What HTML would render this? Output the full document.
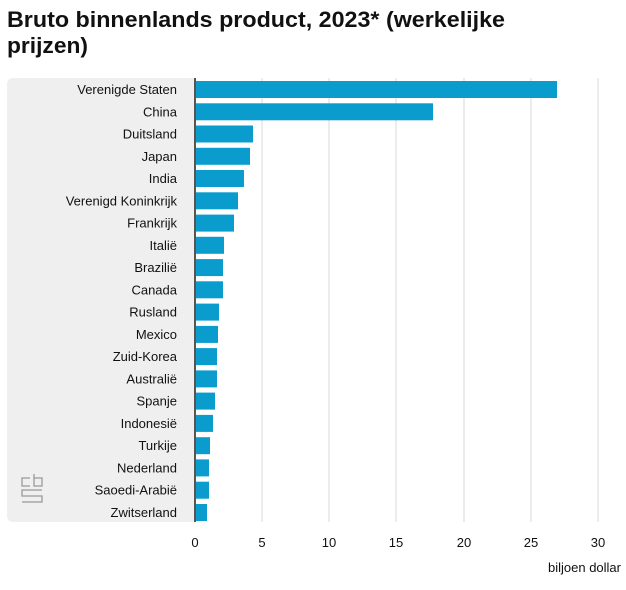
<!DOCTYPE html>
<html><head><meta charset="utf-8"><style>
body{margin:0;background:#fff;width:626px;height:585px;overflow:hidden;font-family:"Liberation Sans",sans-serif}
</style></head><body>
<svg width="626" height="585" xmlns="http://www.w3.org/2000/svg" font-family="Liberation Sans, sans-serif">
<text x="7" y="27" font-size="22" font-weight="bold" fill="#111" textLength="498" lengthAdjust="spacingAndGlyphs">Bruto binnenlands product, 2023* (werkelijke</text>
<text x="7" y="53" font-size="22" font-weight="bold" fill="#111" textLength="81" lengthAdjust="spacingAndGlyphs">prijzen)</text>
<rect x="7" y="78" width="195" height="444" rx="6" fill="#efefef"/>
<g stroke="#d9d9d9" stroke-width="1">
<line x1="262" y1="78" x2="262" y2="522"/><line x1="329" y1="78" x2="329" y2="522"/>
<line x1="396" y1="78" x2="396" y2="522"/><line x1="464" y1="78" x2="464" y2="522"/>
<line x1="531" y1="78" x2="531" y2="522"/><line x1="598" y1="78" x2="598" y2="522"/>
</g>
<rect x="195" y="78" width="10" height="444" fill="#fff"/>
<g fill="#0a9ccc">
<rect x="196" y="81" width="361" height="17"/>
<rect x="196" y="103.3" width="237" height="17"/>
<rect x="196" y="125.5" width="57" height="17"/>
<rect x="196" y="147.8" width="54" height="17"/>
<rect x="196" y="170" width="48" height="17"/>
<rect x="196" y="192.3" width="42" height="17"/>
<rect x="196" y="214.6" width="38" height="17"/>
<rect x="196" y="236.8" width="28" height="17"/>
<rect x="196" y="259.1" width="27" height="17"/>
<rect x="196" y="281.3" width="27" height="17"/>
<rect x="196" y="303.6" width="23" height="17"/>
<rect x="196" y="325.9" width="22" height="17"/>
<rect x="196" y="348.1" width="21" height="17"/>
<rect x="196" y="370.4" width="21" height="17"/>
<rect x="196" y="392.6" width="19" height="17"/>
<rect x="196" y="414.9" width="17" height="17"/>
<rect x="196" y="437.2" width="14" height="17"/>
<rect x="196" y="459.4" width="13" height="17"/>
<rect x="196" y="481.7" width="13" height="17"/>
<rect x="196" y="504" width="11" height="17"/>
</g>
<line x1="195" y1="78" x2="195" y2="522" stroke="#555" stroke-width="2"/>
<g font-size="13" fill="#111" text-anchor="end">
<text x="177" y="94">Verenigde Staten</text>
<text x="177" y="116.3">China</text>
<text x="177" y="138.5">Duitsland</text>
<text x="177" y="160.8">Japan</text>
<text x="177" y="183">India</text>
<text x="177" y="205.3">Verenigd Koninkrijk</text>
<text x="177" y="227.6">Frankrijk</text>
<text x="177" y="249.8">Italië</text>
<text x="177" y="272.1">Brazilië</text>
<text x="177" y="294.3">Canada</text>
<text x="177" y="316.6">Rusland</text>
<text x="177" y="338.9">Mexico</text>
<text x="177" y="361.1">Zuid-Korea</text>
<text x="177" y="383.4">Australië</text>
<text x="177" y="405.6">Spanje</text>
<text x="177" y="427.9">Indonesië</text>
<text x="177" y="450.2">Turkije</text>
<text x="177" y="472.4">Nederland</text>
<text x="177" y="494.7">Saoedi-Arabië</text>
<text x="177" y="517">Zwitserland</text>
</g>
<g font-size="13" fill="#111" text-anchor="middle">
<text x="195" y="547">0</text><text x="262" y="547">5</text><text x="329" y="547">10</text>
<text x="396" y="547">15</text><text x="464" y="547">20</text><text x="531" y="547">25</text><text x="598" y="547">30</text>
</g>
<text x="621" y="572" font-size="13" fill="#111" text-anchor="end">biljoen dollar</text>
<g fill="none" stroke="#999" stroke-width="1.3">
<path d="M30 478 h-8 v8 h8"/><path d="M34 474 v12 h8 v-8 h-8"/>
<path d="M42 490 h-20 v6 h20 v6 h-20"/>
</g>
</svg>
</body></html>
